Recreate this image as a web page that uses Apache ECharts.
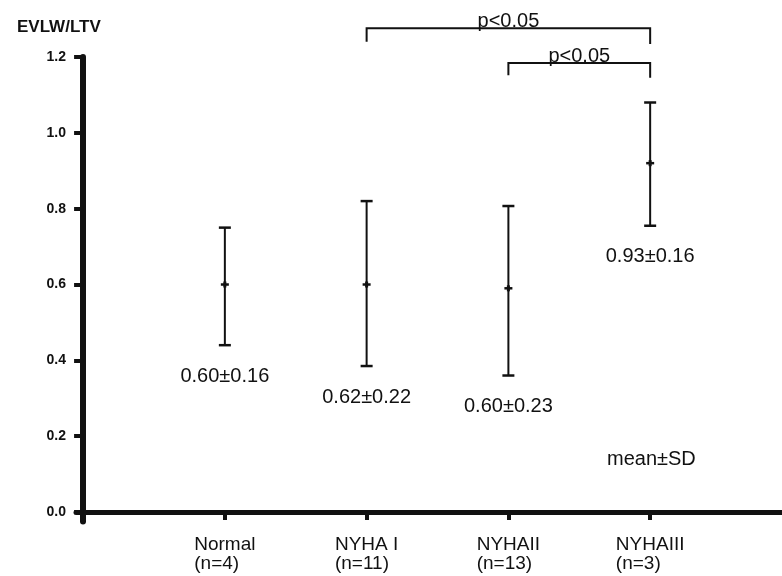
<!DOCTYPE html>
<html>
<head>
<meta charset="utf-8">
<script src="https://cdn.jsdelivr.net/npm/echarts@6/dist/echarts.min.js"></script>
<style>html,body{margin:0;padding:0;background:#fff;}#c{width:782px;height:576px;}</style>
</head>
<body>
<div id="c"></div>
<script>
// ---- data ----
const categories = ['Normal', 'NYHA I', 'NYHAII', 'NYHAIII'];
const groupSizes = ['(n=4)', '(n=11)', '(n=13)', '(n=3)'];
const means = [0.60, 0.60, 0.59, 0.92];
const lows = [0.44, 0.385, 0.36, 0.755];
const highs = [0.75, 0.82, 0.807, 1.08];
const summaryLabels = ['0.60±0.16', '0.62±0.22', '0.60±0.23', '0.93±0.16'];
const yTicks = [0, 0.2, 0.4, 0.6, 0.8, 1.0, 1.2];
const bracketFrom = [2, 3];
const bracketTo = [4, 4];
const bracketTop = [1.276, 1.184];
const bracketLeftEnd = [1.240, 1.152];
const bracketRightEnd = [1.234, 1.145];
const bracketLabels = ['p<0.05', 'p<0.05'];

const FONT = '"Liberation Sans", Arial, Helvetica, sans-serif';
const INK = '#111';

const barData = categories.map((c, i) => [i + 1, means[i], lows[i], highs[i]]);
const bracketData = bracketFrom.map((f, i) => [f, bracketTo[i], bracketTop[i], bracketLeftEnd[i], bracketRightEnd[i]]);
const xTickValues = categories.map((c, i) => i + 1);

const chart = echarts.init(document.getElementById('c'), null, {renderer: 'canvas'});
chart.setOption({
  backgroundColor: '#fff',
  animation: false,
  title: {
    text: 'EVLW/LTV', left: 12, top: 14,
    textStyle: {fontFamily: FONT, fontSize: 17, fontWeight: 'bold', color: INK}
  },
  graphic: [{
    type: 'text', left: 607, top: 449,
    style: {text: 'mean±SD', fontFamily: FONT, fontSize: 20, fill: INK}
  }],
  grid: {left: 76, right: 0, top: 57, bottom: 54.5},
  xAxis: {
    type: 'value', min: -0.05, max: 4.93,
    splitLine: {show: false},
    axisLine: {show: true, onZero: true, lineStyle: {color: INK, width: 5}},
    axisTick: {show: true, customValues: xTickValues, length: 8, lineStyle: {color: INK, width: 4}},
    axisLabel: {
      customValues: xTickValues, margin: 14,
      formatter: v => '{a|' + categories[v - 1] + '}\n{a|' + groupSizes[v - 1] + '}',
      rich: {a: {align: 'left', fontFamily: FONT, fontSize: 19, lineHeight: 19, color: INK}}
    }
  },
  yAxis: {
    type: 'value', min: -0.025, max: 1.2,
    splitLine: {show: false},
    axisLine: {show: true, onZero: true, lineStyle: {color: INK, width: 6}},
    axisTick: {show: true, customValues: yTicks, length: 9, lineStyle: {color: INK, width: 4}},
    axisLabel: {
      customValues: yTicks, margin: 10,
      formatter: v => v.toFixed(1),
      fontFamily: FONT, fontSize: 14, fontWeight: 'bold', color: INK
    }
  },
  series: [{
    type: 'custom',
    data: barData,
    encode: {x: 0, y: [1, 2, 3]},
    clip: false,
    renderItem: function (params, api) {
      const x = api.value(0);
      const t = api.coord([x, api.value(3)]);
      const b = api.coord([x, api.value(2)]);
      const m = api.coord([x, api.value(1)]);
      const cap = 6;
      const ls = {stroke: INK, lineWidth: 2};
      return {type: 'group', children: [
        {type: 'line', shape: {x1: t[0], y1: t[1], x2: b[0], y2: b[1]}, style: ls},
        {type: 'line', shape: {x1: t[0] - cap, y1: t[1], x2: t[0] + cap, y2: t[1]}, style: {stroke: INK, lineWidth: 2.5}},
        {type: 'line', shape: {x1: b[0] - cap, y1: b[1], x2: b[0] + cap, y2: b[1]}, style: {stroke: INK, lineWidth: 2.5}},
        {type: 'line', shape: {x1: m[0] - 4, y1: m[1], x2: m[0] + 4, y2: m[1]}, style: {stroke: INK, lineWidth: 2.5}},
        {type: 'line', shape: {x1: m[0], y1: m[1] - 3, x2: m[0], y2: m[1] + 3}, style: {stroke: INK, lineWidth: 3}},
        {type: 'text', x: b[0], y: b[1] + 31, style: {
          text: summaryLabels[params.dataIndex], fontFamily: FONT, fontSize: 20, fill: INK,
          align: 'center', verticalAlign: 'middle'}}
      ]};
    }
  }, {
    type: 'custom',
    data: bracketData,
    encode: {x: [0, 1], y: [2, 3, 4]},
    clip: false,
    renderItem: function (params, api) {
      const a = api.coord([api.value(0), api.value(3)]);
      const p = api.coord([api.value(0), api.value(2)]);
      const q = api.coord([api.value(1), api.value(2)]);
      const r = api.coord([api.value(1), api.value(4)]);
      return {type: 'group', children: [
        {type: 'polyline', shape: {points: [a, p, q, r]}, style: {stroke: INK, lineWidth: 2, fill: null}},
        {type: 'text', x: (p[0] + q[0]) / 2, y: p[1] - 6.5, style: {
          text: bracketLabels[params.dataIndex], fontFamily: FONT, fontSize: 20, fill: INK,
          align: 'center', verticalAlign: 'middle'}}
      ]};
    }
  }]
});
</script>
</body>
</html>
